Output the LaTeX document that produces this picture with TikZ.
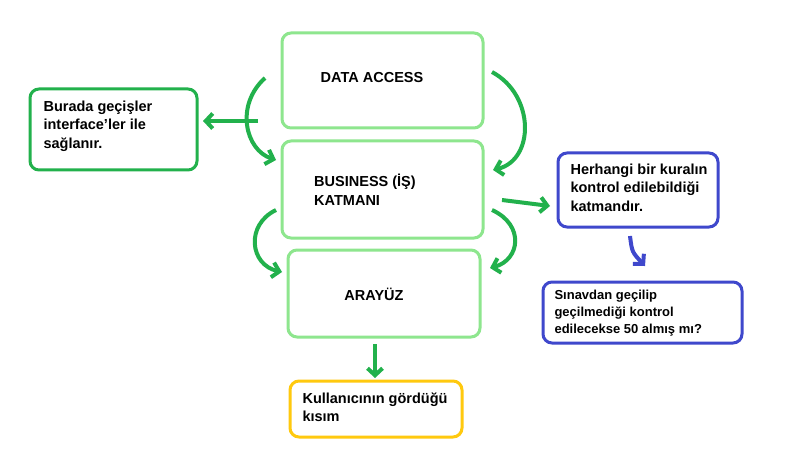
\documentclass[tikz,border=0pt]{standalone}
\usepackage{fontspec}
\setmainfont{Liberation Sans}
\usetikzlibrary{arrows.meta}
\definecolor{lg}{HTML}{8EE68E}
\definecolor{dg}{HTML}{22B14C}
\definecolor{bl}{HTML}{3F48CC}
\definecolor{yl}{HTML}{FFC90E}
\begin{document}
\begin{tikzpicture}[x=1pt,y=-1pt,
  box/.style={draw=#1,line width=3pt,rounded corners=9pt,fill=white},
  lbl/.style={font=\bfseries\fontsize{14.5}{18.5}\selectfont,align=left},
  arr/.style={draw=dg,line width=4pt,-{Straight Barb[length=7pt,width=15pt]}},
  barr/.style={draw=bl,line width=4pt,-{Straight Barb[length=7pt,width=15pt]}}]
\useasboundingbox (0,0) rectangle (786,465);
\fill[white] (0,0) rectangle (786,465);
\draw[box=lg] (282,33) rectangle (483,128); \node[lbl] (da) at (372,78) {DATA ACCESS};
\draw[box=lg] (282,141) rectangle (483,238); \node[lbl] (bus) at (365,190) {BUSINESS (İŞ)\\KATMANI};
\draw[box=lg] (288,250) rectangle (480,337); \node[lbl] (ara) at (374,294) {ARAYÜZ};
\draw[box=dg] (30,89) rectangle (197,170); \node[lbl,anchor=north west] (lb) at (40,97) {Burada geçişler\\interface'ler ile\\sağlanır.};
\draw[box=bl] (558,153) rectangle (718,227); \node[lbl,anchor=north west] (rb) at (567,160) {Herhangi bir kuralın\\kontrol edilebildiği\\katmandır.};
\draw[box=bl] (543,282) rectangle (742,343); \node[lbl,anchor=north west,font=\bfseries\fontsize{13}{17}\selectfont] (rb2) at (551,287) {Sınavdan geçilip\\geçilmediği kontrol\\edilecekse 50 almış mı?};
\draw[box=yl] (290,381) rectangle (462,437); \node[lbl,anchor=north west] (yb) at (299,389) {Kullanıcının gördüğü\\kısım};
\coordinate (a1) at (265,78); \coordinate (a1e) at (276,160);
\draw[arr] (a1) .. controls (235,105) and (245,150) .. (a1e);
\coordinate (a2) at (258,121); \coordinate (a2e) at (203,121);
\draw[arr] (a2) -- (a2e);
\coordinate (a3) at (492,72); \coordinate (a3e) at (493,170);
\draw[arr] (a3) .. controls (535,95) and (535,160) .. (a3e);
\coordinate (a4) at (502,200); \coordinate (a4e) at (550,206);
\draw[arr] (a4) -- (a4e);
\coordinate (a5) at (276,210); \coordinate (a5e) at (282,272);
\draw[arr] (a5) .. controls (245,225) and (250,265) .. (a5e);
\coordinate (a6) at (492,210); \coordinate (a6e) at (490,268);
\draw[arr] (a6) .. controls (525,225) and (520,260) .. (a6e);
\coordinate (a7) at (375,344); \coordinate (a7e) at (375,378);
\draw[arr] (a7) -- (a7e);
\coordinate (b1) at (630,236); \coordinate (b1e) at (645,266);
\draw[barr] (b1) .. controls (632,252) .. (b1e);
\end{tikzpicture}
\end{document}
